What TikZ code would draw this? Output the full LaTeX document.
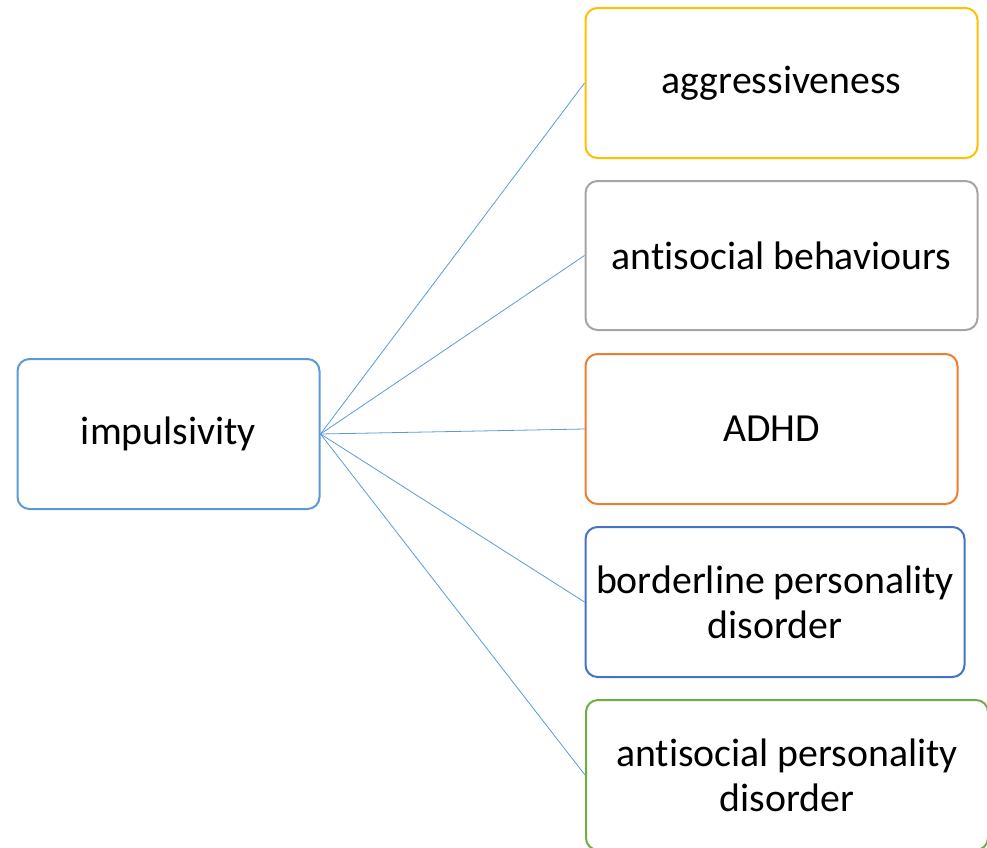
\documentclass[tikz,border=0pt]{standalone}
\usepackage{fontspec}
\setmainfont[Ligatures=NoCommon]{Carlito}
\definecolor{cimp}{HTML}{5B9BD5}
\definecolor{cyel}{HTML}{FFC000}
\definecolor{cgry}{HTML}{A5A5A5}
\definecolor{corg}{HTML}{ED7D31}
\definecolor{cblu}{HTML}{4472C4}
\definecolor{cgrn}{HTML}{70AD47}
\begin{document}
\begin{tikzpicture}[x=1pt,y=-1pt,
  box/.style={draw, line width=2pt, rounded corners=12pt, fill=white, inner sep=0pt,
    align=center, font=\fontsize{39.8}{45}\selectfont, text=black},
  conn/.style={draw=cimp, line width=0.8pt}]
\useasboundingbox (0,0) rectangle (987,847);
\clip (0,0) rectangle (987,847);
\node[box, draw=cimp, minimum width=302pt, minimum height=150pt] (imp) at (168.5,434) {impulsivity};
\node[box, draw=cyel, minimum width=392pt, minimum height=150pt] (agg) at (781.5,83) {aggressiveness};
\node[box, draw=cgry, minimum width=392pt, minimum height=149pt] (asb) at (781.5,255.5) {antisocial behaviours};
\node[box, draw=corg, minimum width=372pt, minimum height=150pt] (adhd) at (771.5,429) {ADHD};
\node[box, draw=cblu, minimum width=379pt, minimum height=150pt] (bpd) at (775,602) {borderline personality\\disorder};
\node[box, draw=cgrn, minimum width=402pt, minimum height=150pt] (apd) at (787,775) {antisocial personality\\disorder};
\foreach \t in {agg,asb,adhd,bpd,apd}
  \draw[conn] (imp.east) -- (\t.west);
\end{tikzpicture}
\end{document}
